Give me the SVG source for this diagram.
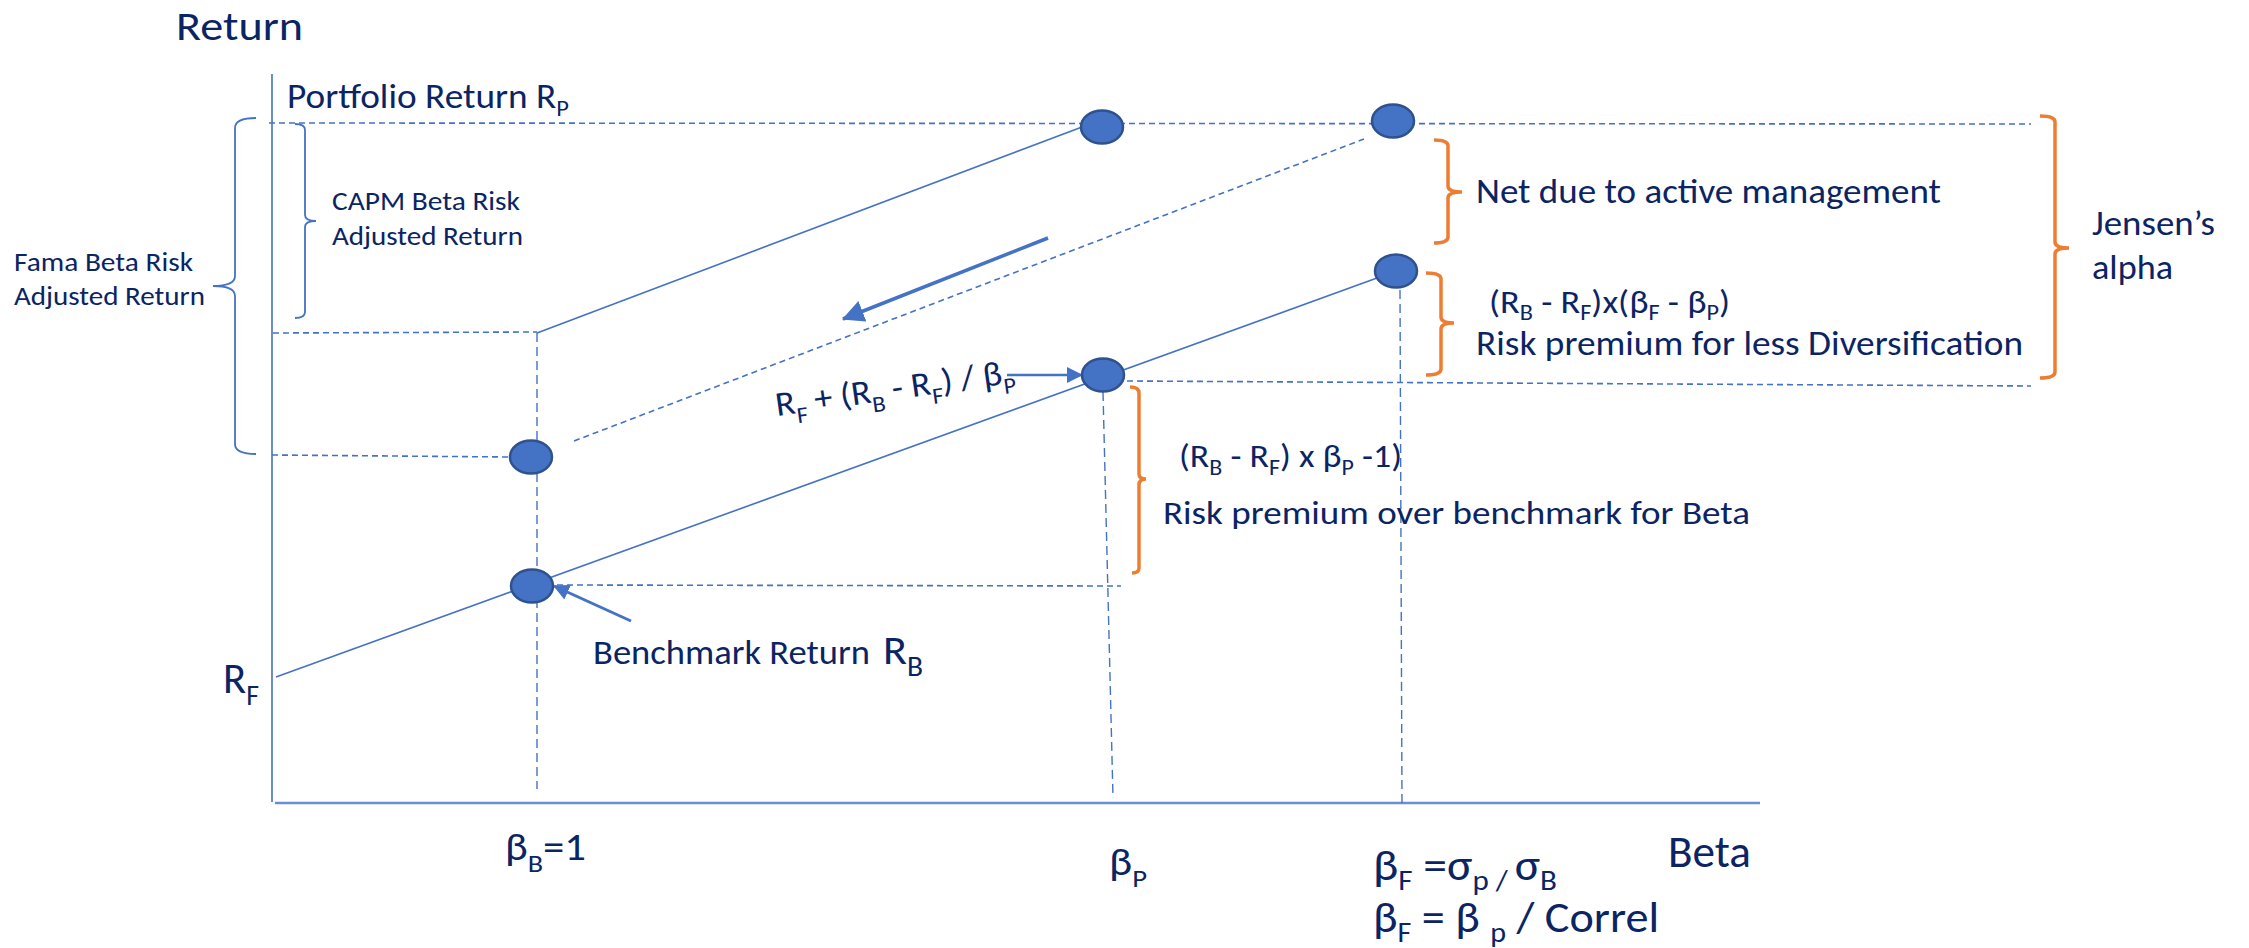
<svg xmlns="http://www.w3.org/2000/svg" width="2249" height="948" viewBox="0 0 2249 948">
<style>
text{font-family:Carlito,Lato,"Open Sans",sans-serif;fill:#0B2463}
.ax{stroke:#4472C4;stroke-width:1.6;fill:none}
.xa{stroke:#6A8ED3;stroke-width:2.6;fill:none}
.sl{stroke:#4472C4;stroke-width:1.6;fill:none}
.dh{stroke:#4472C4;stroke-width:1.6;fill:none;stroke-dasharray:6 4}
.dv{stroke:#4472C4;stroke-width:1.4;fill:none;stroke-dasharray:9 5}
.br{stroke:#4472C4;stroke-width:1.8;fill:none}
.ob{stroke:#ED7D31;stroke-width:3.5;fill:none}
.ar{stroke:#4472C4;fill:none}
.nd{fill:#4472C4;stroke:#2F528F;stroke-width:2.5}
</style>
<defs>
<marker id="ah" viewBox="0 0 16 16" refX="15" refY="8" markerWidth="16" markerHeight="16" markerUnits="userSpaceOnUse" orient="auto">
<path d="M0,0 L16,8 L0,16 Z" fill="#4472C4"/>
</marker>
<marker id="ah2" viewBox="0 0 20 20" refX="19" refY="10" markerWidth="22" markerHeight="22" markerUnits="userSpaceOnUse" orient="auto">
<path d="M0,0 L20,10 L0,20 Z" fill="#4472C4"/>
</marker>
</defs>
<g id="axes">
<line class="ax" x1="272" y1="74" x2="272" y2="802"/>
<line class="xa" x1="275" y1="803" x2="1760" y2="803"/>
</g>
<g id="connectors">
<line class="dh" x1="269" y1="123" x2="2031" y2="124"/>
<line class="dh" x1="273" y1="333" x2="537" y2="332"/>
<line class="dh" x1="272" y1="455" x2="510" y2="457"/>
<line class="dv" x1="537" y1="333" x2="537" y2="789"/>
<line class="sl" x1="537" y1="333" x2="1082" y2="127"/>
<line class="dh" x1="574" y1="441" x2="1364" y2="139"/>
<line class="sl" x1="276" y1="677" x2="1377" y2="278"/>
<line class="dh" x1="1127" y1="381" x2="2031" y2="386"/>
<line class="dv" x1="1103" y1="392" x2="1113" y2="798"/>
<line class="dv" x1="1400" y1="290" x2="1402" y2="807"/>
<line class="dh" x1="557" y1="585" x2="1121" y2="586"/>
<line class="ar" stroke-width="2.6" x1="1007" y1="375" x2="1082" y2="375" marker-end="url(#ah)"/>
<line class="ar" stroke-width="3.5" x1="1048" y1="238" x2="843" y2="319" marker-end="url(#ah2)"/>
<line class="ar" stroke-width="3" x1="631" y1="621" x2="554" y2="586" marker-end="url(#ah)"/>
</g>
<g id="braces">
<path class="br" d="M256,118 Q235,118 235,128 L235,276 Q235,286 213,286 Q235,286 235,296 L235,444 Q235,454 256,454"/>
<path class="br" d="M295,124 Q305,124 305,130 L305,215 Q305,221 316,221 Q305,221 305,227 L305,312 Q305,318 295,318"/>
<path class="ob" d="M1434,140 Q1448,140 1448,146 L1448,186 Q1448,192 1462,192 Q1448,192 1448,198 L1448,237 Q1448,243 1434,243"/>
<path class="ob" d="M1426,273 Q1441,273 1441,279 L1441,317 Q1441,323 1454,323 Q1441,323 1441,329 L1441,369 Q1441,375 1426,375"/>
<path class="ob" d="M1130,387 Q1139,387 1139,393 L1139,474 Q1139,479 1146,479 Q1139,479 1139,485 L1139,568 Q1139,573 1132,573"/>
<path class="ob" d="M2040,116 Q2055,116 2055,122 L2055,242 Q2055,248 2069,248 Q2055,248 2055,254 L2055,372 Q2055,378 2040,378"/>
</g>
<g id="node-portfolio"><ellipse class="nd" cx="1102" cy="127" rx="21" ry="16.5"/></g>
<g id="node-portfolio-f"><ellipse class="nd" cx="1393" cy="121" rx="21" ry="16.5"/></g>
<g id="node-diversification"><ellipse class="nd" cx="1396" cy="271" rx="21" ry="16.5"/></g>
<g id="node-beta-p"><ellipse class="nd" cx="1103" cy="375" rx="21" ry="16.5"/></g>
<g id="node-fama"><ellipse class="nd" cx="531" cy="457" rx="21" ry="16.5"/></g>
<g id="node-benchmark"><ellipse class="nd" cx="532" cy="586" rx="21" ry="16.5"/></g>
<g id="labels">
<text x="176" y="40" font-size="42" textLength="127" lengthAdjust="spacingAndGlyphs">Return</text>
<text x="287" y="108" font-size="35" textLength="282" lengthAdjust="spacingAndGlyphs">Portfolio Return R<tspan font-size="23" dy="8">P</tspan></text>
<text x="332" y="210" font-size="27" textLength="188" lengthAdjust="spacingAndGlyphs">CAPM Beta Risk</text>
<text x="332" y="245" font-size="27" textLength="191" lengthAdjust="spacingAndGlyphs">Adjusted Return</text>
<text x="14" y="271" font-size="27" textLength="179" lengthAdjust="spacingAndGlyphs">Fama Beta Risk</text>
<text x="14" y="305" font-size="27" textLength="191" lengthAdjust="spacingAndGlyphs">Adjusted Return</text>
<text x="1476" y="203" font-size="35" textLength="465" lengthAdjust="spacingAndGlyphs">Net due to active management</text>
<text x="1489" y="313" font-size="33" textLength="241" lengthAdjust="spacingAndGlyphs">(R<tspan font-size="22" dy="7">B</tspan><tspan dy="-7"> - R</tspan><tspan font-size="22" dy="7">F</tspan><tspan dy="-7">)x(β</tspan><tspan font-size="22" dy="7">F</tspan><tspan dy="-7"> - β</tspan><tspan font-size="22" dy="7">P</tspan><tspan dy="-7">)</tspan></text>
<text x="1476" y="355" font-size="35" textLength="547" lengthAdjust="spacingAndGlyphs">Risk premium for less Diversification</text>
<text x="2092" y="235" font-size="35" textLength="123" lengthAdjust="spacingAndGlyphs">Jensen’s</text>
<text x="2092" y="279" font-size="35" textLength="81" lengthAdjust="spacingAndGlyphs">alpha</text>
<text x="1179" y="467" font-size="33" textLength="223" lengthAdjust="spacingAndGlyphs">(R<tspan font-size="22" dy="8">B</tspan><tspan dy="-8"> - R</tspan><tspan font-size="22" dy="8">F</tspan><tspan dy="-8">) x β</tspan><tspan font-size="22" dy="8">P</tspan><tspan dy="-8"> -1)</tspan></text>
<text x="1163" y="524" font-size="33" textLength="587" lengthAdjust="spacingAndGlyphs">Risk premium over benchmark for Beta</text>
<text x="777" y="416" font-size="34.5" textLength="241" lengthAdjust="spacingAndGlyphs" transform="rotate(-8 777 416)">R<tspan font-size="23" dy="10">F</tspan><tspan dy="-10"> + (R</tspan><tspan font-size="23" dy="10">B</tspan><tspan dy="-10"> - R</tspan><tspan font-size="23" dy="10">F</tspan><tspan dy="-10">) / β</tspan><tspan font-size="23" dy="10">P</tspan></text>
<text x="593" y="664" font-size="34.5" textLength="277" lengthAdjust="spacingAndGlyphs">Benchmark Return</text>
<text x="883" y="664" font-size="42" textLength="40" lengthAdjust="spacingAndGlyphs">R<tspan font-size="28" dy="12">B</tspan></text>
<text x="223" y="693" font-size="43" textLength="36" lengthAdjust="spacingAndGlyphs">R<tspan font-size="28" dy="12">F</tspan></text>
<text x="505" y="860" font-size="38" textLength="81" lengthAdjust="spacingAndGlyphs">β<tspan font-size="25" dy="12">B</tspan><tspan dy="-12">=1</tspan></text>
<text x="1109" y="875" font-size="38" textLength="38" lengthAdjust="spacingAndGlyphs">β<tspan font-size="25" dy="12">P</tspan></text>
<text x="1373" y="880" font-size="43" textLength="184" lengthAdjust="spacingAndGlyphs">β<tspan font-size="28" dy="10">F</tspan><tspan dy="-10"> =σ</tspan><tspan font-size="28" dy="10">p / </tspan><tspan dy="-10">σ</tspan><tspan font-size="28" dy="10">B</tspan></text>
<text x="1373" y="932" font-size="43" textLength="286" lengthAdjust="spacingAndGlyphs">β<tspan font-size="28" dy="10">F</tspan><tspan dy="-10"> = β </tspan><tspan font-size="28" dy="10">p</tspan><tspan dy="-10"> / Correl</tspan></text>
<text x="1668" y="867" font-size="46" textLength="83" lengthAdjust="spacingAndGlyphs">Beta</text>
</g>
</svg>
